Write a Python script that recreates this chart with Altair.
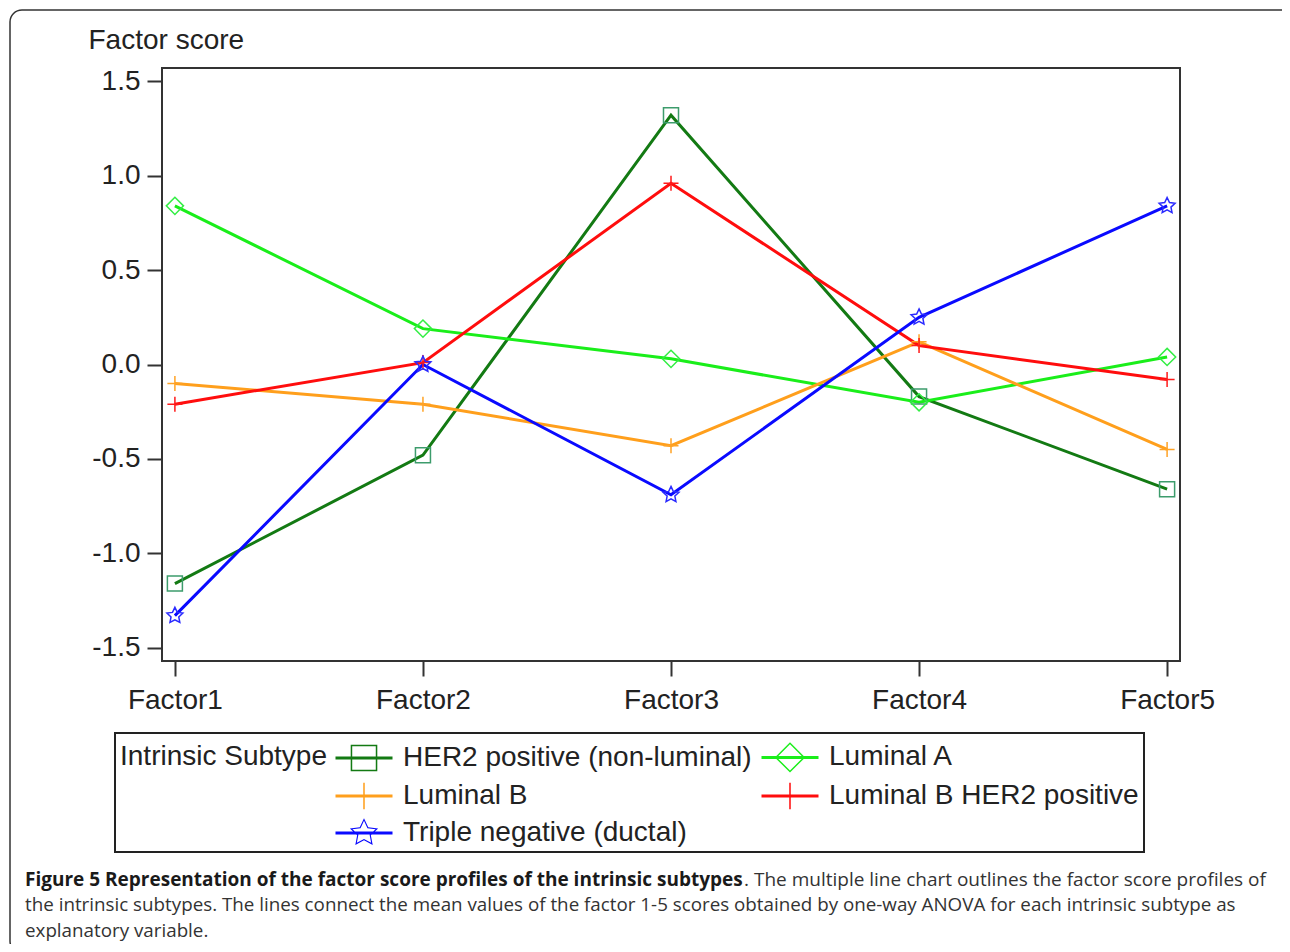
import math
import altair as alt
import pandas as pd

# ---------------- data ----------------
factors = ["Factor1", "Factor2", "Factor3", "Factor4", "Factor5"]
subtypes = [
    "HER2 positive (non-luminal)",
    "Luminal A",
    "Luminal B",
    "Luminal B HER2 positive",
    "Triple negative (ductal)",
]
her2_nonluminal = [-1.16, -0.48, 1.32, -0.17, -0.66]
luminal_a = [0.84, 0.19, 0.03, -0.20, 0.04]
luminal_b = [-0.10, -0.21, -0.43, 0.12, -0.45]
luminal_b_her2 = [-0.21, 0.01, 0.96, 0.10, -0.08]
triple_negative = [-1.33, 0.00, -0.69, 0.25, 0.84]
y_ticks = [-1.5, -1.0, -0.5, 0.0, 0.5, 1.0, 1.5]

caption_bold = "Figure 5 Representation of the factor score profiles of the intrinsic subtypes"
caption_line1 = ". The multiple line chart outlines the factor score profiles of"
caption_line2 = ("the intrinsic subtypes. The lines connect the mean values of the factor 1-5 scores "
                 "obtained by one-way ANOVA for each intrinsic subtype as")
caption_line3 = "explanatory variable."

series = [her2_nonluminal, luminal_a, luminal_b, luminal_b_her2, triple_negative]
rows = []
for name, vals in zip(subtypes, series):
    for f, v in zip(factors, vals):
        rows.append({"factor": f, "score": v, "subtype": name})
df = pd.DataFrame(rows)

# ---------------- styles ----------------
line_colors = ["#137a13", "#1aee1a", "#ff9f1c", "#ff0d0d", "#0a0aff"]
marker_colors = ["#3d9c6c", "#33ee44", "#ffa326", "#ff1a1a", "#2a2aff"]


def star_pts(R, r):
    pts = []
    for i in range(10):
        ang = -math.pi / 2 + i * math.pi / 5
        rad = R if i % 2 == 0 else r
        pts.append(f"{rad * math.cos(ang):.3f},{rad * math.sin(ang):.3f}")
    return pts


def star(R, r):
    return "M" + "L".join(star_pts(R, r)) + "Z"


def star_ring(R, r, R2, r2):
    outer = star_pts(R, r)
    inner = star_pts(R2, r2)[::-1]
    return "M" + "L".join(outer) + "Z" + "M" + "L".join(inner) + "Z"


# plot markers (stroked outlines)
marker_paths = [
    "M-0.7,-0.7H0.7V0.7H-0.7Z",
    "M0,-0.8L0.8,0L0,0.8L-0.8,0Z",
    "M-0.7,0H0.7M0,-0.7V0.7",
    "M-0.7,0H0.7M0,-0.7V0.7",
    star(0.78, 0.38),
]

# legend symbols (filled shapes: thick line bar + thin marker ring)
BAR = "M-1.5,-0.08H1.5V0.08H-1.5Z"
legend_paths = [
    BAR + "M-0.7,-0.7H0.7V0.7H-0.7ZM-0.62,-0.62V0.62H0.62V-0.62Z",
    BAR + "M0,-0.8L0.8,0L0,0.8L-0.8,0ZM0,-0.69L-0.69,0L0,0.69L0.69,0Z",
    BAR + "M-0.04,-0.7H0.04V0.7H-0.04Z",
    BAR + "M-0.04,-0.7H0.04V0.7H-0.04Z",
    BAR + star_ring(0.78, 0.38, 0.64, 0.31),
]

FONT = "Liberation Sans"
TXT = "#222222"
FS = 28

x_enc = alt.X(
    "factor:N",
    scale=alt.Scale(type="point", domain=factors, padding=0.052),
    axis=alt.Axis(
        title=None, labelAngle=0, tickSize=15, tickWidth=2, tickColor="#333333",
        labelPadding=10, labelFontSize=FS, labelFont=FONT, labelColor=TXT,
        domain=False, grid=False,
    ),
)
y_enc = alt.Y(
    "score:Q",
    scale=alt.Scale(domain=[-1.57, 1.57], nice=False, zero=False),
    axis=alt.Axis(
        values=y_ticks, title="Factor score", titleAngle=0, titleX=-74, titleY=-20,
        titleAlign="left", titleBaseline="alphabetic", titleFontSize=FS,
        titleFont=FONT, titleFontWeight="normal", titleColor=TXT,
        labelExpr="datum.value < 0 ? '-' + format(abs(datum.value), '.1f') : format(datum.value, '.1f')",
        tickSize=15, tickWidth=2, tickColor="#333333", labelPadding=7,
        labelFontSize=FS, labelFont=FONT, labelColor=TXT, domain=False, grid=False,
    ),
)

legend_spec = alt.Legend(
    title="Intrinsic Subtype",
    orient="none", legendX=-47, legendY=665, columns=2, direction="horizontal", padding=5,
    symbolSize=1444, symbolOffset=0, labelOffset=20, rowPadding=4, columnPadding=9,
    symbolStrokeWidth=0, symbolOpacity=1,
    labelFontSize=FS, labelFont=FONT, labelLimit=600, labelColor=TXT,
    titleFontSize=FS, titleFont=FONT, titleFontWeight="normal", titleOrient="left",
    titleLimit=600, titleAnchor="start", titleColor=TXT,
    titlePadding=18, titleBaseline="line-top", titleLineHeight=38,
    strokeColor="#222222",
)

lines = alt.Chart(df).mark_line(strokeWidth=3).encode(
    x=x_enc,
    y=y_enc,
    color=alt.Color(
        "subtype:N", scale=alt.Scale(domain=subtypes, range=line_colors), legend=None
    ),
    detail="subtype:N",
)

points = alt.Chart(df).mark_point(filled=False, strokeWidth=1.5, size=460, opacity=1).encode(
    x=x_enc,
    y=y_enc,
    color=alt.Color(
        "subtype:N", scale=alt.Scale(domain=subtypes, range=marker_colors), legend=None
    ),
    shape=alt.Shape(
        "subtype:N", scale=alt.Scale(domain=subtypes, range=marker_paths), legend=None
    ),
)

# invisible layer that only provides the legend (line + marker symbols)
legend_layer = alt.Chart(df).mark_point(filled=True, strokeWidth=0, size=460, opacity=0).encode(
    x=x_enc,
    y=y_enc,
    color=alt.Color(
        "subtype:N", scale=alt.Scale(domain=subtypes, range=line_colors), legend=legend_spec
    ),
    shape=alt.Shape(
        "subtype:N", scale=alt.Scale(domain=subtypes, range=legend_paths), legend=legend_spec
    ),
)

one = pd.DataFrame({"k": [0]})

frame = alt.Chart(one).mark_rect(
    filled=False, stroke="#333333", strokeWidth=1.5, cornerRadius=12
).encode(
    x=alt.value(-152), x2=alt.value(1135), y=alt.value(-58), y2=alt.value(885)
)

cap_b = alt.Chart(one).mark_text(
    align="left", baseline="alphabetic", font="Open Sans", fontSize=19,
    fontWeight="bold", color="#1a1a1a",
).encode(x=alt.value(-137), y=alt.value(818), text=alt.value(caption_bold))

cap_1 = alt.Chart(one).mark_text(
    align="left", baseline="alphabetic", font="Open Sans", fontSize=19, color="#333333",
).encode(x=alt.value(582), y=alt.value(818), text=alt.value(caption_line1))

cap_2 = alt.Chart(one).mark_text(
    align="left", baseline="alphabetic", font="Open Sans", fontSize=18.8, color="#333333",
).encode(x=alt.value(-137), y=alt.value(843), text=alt.value(caption_line2))

cap_3 = alt.Chart(one).mark_text(
    align="left", baseline="alphabetic", font="Open Sans", fontSize=18.8, color="#333333",
).encode(x=alt.value(-137), y=alt.value(869), text=alt.value(caption_line3))

chart = (
    alt.layer(frame, lines, points, legend_layer, cap_b, cap_1, cap_2, cap_3)
    .resolve_scale(color="independent", shape="independent")
    .resolve_legend(color="independent", shape="independent")
    .properties(
        width=1018,
        height=593,
        autosize=alt.AutoSizeParams(type="none"),
        padding={"left": 154, "top": 60, "right": 102, "bottom": 283},
        background="white",
    )
    .configure_view(stroke="#333333", strokeWidth=2)
    .configure_legend(strokeWidth=2)
)

chart.save("out.html", embed_options={"renderer": "svg", "actions": False})
